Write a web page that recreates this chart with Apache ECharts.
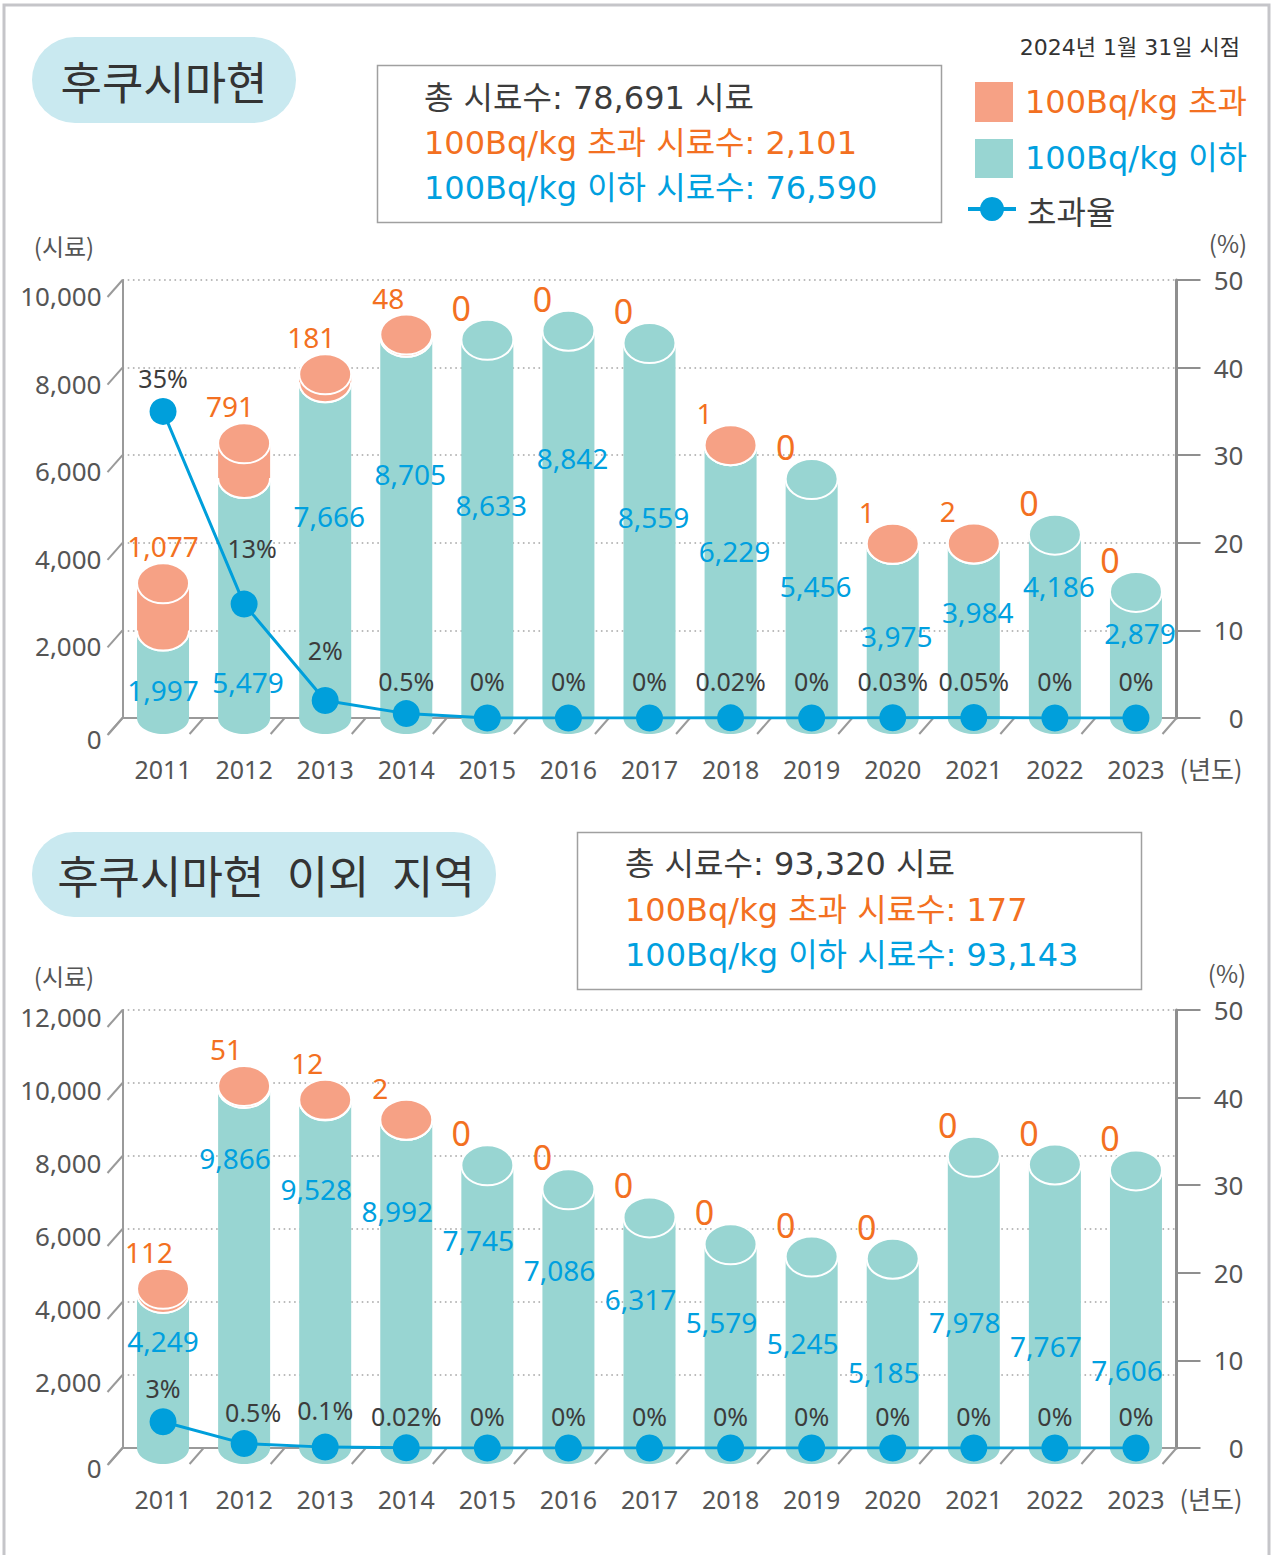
<!DOCTYPE html>
<html>
<head>
<meta charset="utf-8">
<script src="https://cdn.jsdelivr.net/npm/echarts@6/dist/echarts.min.js"></script>
<style>
html,body{margin:0;padding:0;background:#fff;}
#c{width:1273px;height:1555px;}
</style>
</head>
<body>
<div id="c"></div>
<script>
// ---------- data ----------
const years = ['2011','2012','2013','2014','2015','2016','2017','2018','2019','2020','2021','2022','2023'];

// 후쿠시마현
const fkBelow = [1997, 5479, 7666, 8705, 8633, 8842, 8559, 6229, 5456, 3975, 3984, 4186, 2879];
const fkOver  = [1077, 791, 181, 48, 0, 0, 0, 1, 0, 1, 2, 0, 0];
const fkRate  = [35, 13, 2, 0.5, 0, 0, 0, 0.02, 0, 0.03, 0.05, 0, 0];
const fkCountTicks = [0, 2000, 4000, 6000, 8000, 10000];

// 후쿠시마현 이외 지역
const otBelow = [4249, 9866, 9528, 8992, 7745, 7086, 6317, 5579, 5245, 5185, 7978, 7767, 7606];
const otOver  = [112, 51, 12, 2, 0, 0, 0, 0, 0, 0, 0, 0, 0];
const otRate  = [3, 0.5, 0.1, 0.02, 0, 0, 0, 0, 0, 0, 0, 0, 0];
const otCountTicks = [0, 2000, 4000, 6000, 8000, 10000, 12000];

const rateTicks = [0, 10, 20, 30, 40, 50];

// label anchor heights (in sample units) for the "이하" value labels
const fkBelowLabelAt = [640, 820, 4610, 5570, 4860, 5940, 4590, 3810, 3010, 1870, 2420, 3010, 1940];
const otBelowLabelAt = [2930, 7950, 7100, 6490, 5700, 4880, 4080, 3450, 2880, 2080, 3450, 2800, 2140];
// rate label offsets [dx, dy] relative to the point
const fkRateLabelOffset = [[0,-33],[8,-56],[0,-50],[0,-33],[0,-37],[0,-37],[0,-37],[0,-37],[0,-37],[0,-37],[0,-37],[0,-37],[0,-37]];
const otRateLabelOffset = [[0,-34],[9,-32],[0,-37],[0,-32],[0,-32],[0,-32],[0,-32],[0,-32],[0,-32],[0,-32],[0,-32],[0,-32],[0,-32]];

// ---------- style ----------
const FONT = "'Noto Sans','Noto Sans CJK KR',sans-serif";
const KFONT = "'Noto Sans CJK KR','Noto Sans',sans-serif";
const WFONT = "'DejaVu Sans','Noto Sans CJK KR',sans-serif";
const C = {
  teal: '#98d5d2', orange: '#f6a185', orangeText: '#f37021', blueText: '#00a0df',
  line: '#009fdb', dark: '#3c3c3c', gray: '#555555', axis: '#9a9a9a', pill: '#c9e9f0'
};
const BAR_W = 52, RY = 20, BASE_RY = 16;

const fmt = v => Number(v).toLocaleString('en-US');
const sum = a => a.reduce((s, v) => s + v, 0);

function txt(text, x, y, size, color, align, family) {
  return {
    type: 'text', x: x, y: y, z: 10,
    style: {
      text: text, fill: color, fontSize: size, fontFamily: family || KFONT,
      align: align || 'left', verticalAlign: 'middle',
      textAlign: align || 'left', textVerticalAlign: 'middle'
    }
  };
}

function belowSeries(gi, below, labelAt, labelDx) {
  return {
    type: 'custom', name: '100Bq/kg 이하', xAxisIndex: gi, yAxisIndex: gi * 2, z: 2,
    silent: true, animation: false,
    itemStyle: { color: C.teal },
    data: below.map((v, i) => [i, v, labelAt[i]]),
    renderItem: function (params, api) {
      const i = api.value(0);
      const base = api.coord([i, 0]);
      const top = api.coord([i, api.value(1)]);
      const lab = api.coord([i, api.value(2)]);
      const x = base[0];
      const dx = i === 0 ? 0 : labelDx;
      return {
        type: 'group', children: [
          { type: 'ellipse', shape: { cx: x, cy: base[1], rx: BAR_W / 2, ry: BASE_RY }, style: { fill: C.teal } },
          { type: 'rect', shape: { x: x - BAR_W / 2, y: top[1], width: BAR_W, height: base[1] - top[1] }, style: { fill: C.teal } },
          { type: 'ellipse', shape: { cx: x, cy: top[1], rx: BAR_W / 2, ry: RY }, style: { fill: C.teal, stroke: '#ffffff', lineWidth: 2 } },
          { type: 'text', z2: 50, style: {
              text: fmt(api.value(1)), x: x + dx, y: lab[1], fill: C.blueText,
              fontSize: 28, fontFamily: FONT, align: 'center', verticalAlign: 'middle',
              textAlign: 'center', textVerticalAlign: 'middle' } }
        ]
      };
    }
  };
}

function overDx(s) { return s.length >= 5 ? 0 : s.length >= 3 ? -14 : s.length === 2 ? -18 : -26; }

function overSeries(gi, below, over) {
  return {
    type: 'custom', name: '100Bq/kg 초과', xAxisIndex: gi, yAxisIndex: gi * 2, z: 2,
    silent: true, animation: false,
    itemStyle: { color: C.orange },
    data: over.map((o, i) => [i, below[i], below[i] + o, o]),
    renderItem: function (params, api) {
      const i = api.value(0);
      const o = api.value(3);
      const p0 = api.coord([i, api.value(1)]);
      const p1 = api.coord([i, api.value(2)]);
      const x = p0[0];
      const children = [];
      if (o > 0) {
        children.push(
          { type: 'ellipse', shape: { cx: x, cy: p0[1], rx: BAR_W / 2, ry: RY }, style: { fill: C.orange, stroke: '#ffffff', lineWidth: 2 } },
          { type: 'rect', shape: { x: x - BAR_W / 2, y: p1[1], width: BAR_W, height: p0[1] - p1[1] }, style: { fill: C.orange } },
          { type: 'ellipse', shape: { cx: x, cy: p1[1], rx: BAR_W / 2, ry: RY }, style: { fill: C.orange, stroke: '#ffffff', lineWidth: 2 } }
        );
      }
      const s = fmt(o);
      children.push({ type: 'text', z2: 50, style: {
        text: s, x: x + overDx(s), y: p1[1] - (o >= 10 ? 37 : 32), fill: C.orangeText,
        fontSize: o === 0 ? 34 : 28, fontFamily: FONT, align: 'center', verticalAlign: 'middle',
        textAlign: 'center', textVerticalAlign: 'middle' } });
      return { type: 'group', children: children };
    }
  };
}

function floorSeries(gi) {
  return {
    type: 'custom', xAxisIndex: gi, yAxisIndex: gi * 2, z: 1, silent: true, animation: false,
    data: years.map((y, i) => [i, 0]),
    renderItem: function (params, api) {
      const i = api.value(0);
      const p = api.coord([i, 0]);
      const band = api.size([1, 0])[0];
      const xs = [p[0] - band / 2];
      if (i === years.length - 1) xs.push(p[0] + band / 2);
      return {
        type: 'group', children: xs.map(bx => ({
          type: 'line', shape: { x1: bx, y1: p[1], x2: bx - 14, y2: p[1] + 16 },
          style: { stroke: C.axis, lineWidth: 2 }
        }))
      };
    }
  };
}

function leftDiagSeries(gi, ticks) {
  return {
    type: 'custom', xAxisIndex: gi, yAxisIndex: gi * 2, z: 1, silent: true, animation: false,
    data: ticks.map(v => [0, v]),
    renderItem: function (params, api) {
      const p = api.coord([0, api.value(1)]);
      const band = api.size([1, 0])[0];
      const gx = p[0] - band / 2;
      return { type: 'line', shape: { x1: gx, y1: p[1], x2: gx - 15, y2: p[1] + 17 },
        style: { stroke: C.axis, lineWidth: 2 } };
    }
  };
}

function rateSeries(gi, rate, offs) {
  return {
    type: 'line', name: '초과율', xAxisIndex: gi, yAxisIndex: gi * 2 + 1, z: 3,
    silent: true, animation: false,
    data: rate.map((v, i) => ({ value: v, label: { offset: offs[i] } })),
    symbol: 'circle', symbolSize: 27, showAllSymbol: true,
    lineStyle: { color: C.line, width: 3 },
    itemStyle: { color: C.line },
    label: { show: true, position: 'inside', formatter: p => p.value + '%',
      color: C.dark, fontSize: 25, fontFamily: FONT }
  };
}

function xAxis(gi) {
  return {
    type: 'category', gridIndex: gi, data: years,
    axisLine: { show: true, lineStyle: { color: C.axis, width: 2 } },
    axisTick: { show: false },
    axisLabel: { interval: 0, margin: 38, fontSize: 25, color: C.gray, fontFamily: FONT },
    splitLine: { show: false }
  };
}

// lh: line height used to push the label below its grid line (front-plane look)
function leftAxis(gi, ticks, lh, lhZero) {
  return {
    type: 'value', gridIndex: gi, position: 'left',
    min: ticks[0], max: ticks[ticks.length - 1], interval: ticks[1] - ticks[0],
    axisLine: { show: true, lineStyle: { color: C.axis, width: 2 } },
    axisTick: { show: false },
    axisLabel: {
      margin: 21, verticalAlign: 'top',
      formatter: v => v === 0 ? '{z|0}' : '{n|' + fmt(v) + '}',
      rich: {
        n: { fontSize: 26, color: C.gray, fontFamily: FONT, lineHeight: lh },
        z: { fontSize: 26, color: C.gray, fontFamily: FONT, lineHeight: lhZero }
      }
    },
    splitLine: { show: true, lineStyle: { color: '#a5a5a5', width: 1.6, type: [1.6, 3.6] } }
  };
}

function rightAxis(gi) {
  return {
    type: 'value', gridIndex: gi, position: 'right',
    min: rateTicks[0], max: rateTicks[rateTicks.length - 1], interval: rateTicks[1] - rateTicks[0],
    axisLine: { show: true, lineStyle: { color: '#8f8f8f', width: 3 } },
    axisTick: { show: true, length: 24, inside: false, lineStyle: { color: '#8f8f8f', width: 2 } },
    axisLabel: { margin: 67, align: 'right', fontSize: 26, color: C.gray, fontFamily: FONT },
    splitLine: { show: false }
  };
}

const fkTotal = sum(fkBelow) + sum(fkOver);
const otTotal = sum(otBelow) + sum(otOver);

const graphics = [
  { type: 'rect', z: 0, shape: { x: 4, y: 5, width: 1265, height: 1560 },
    style: { fill: 'none', stroke: '#c5c5c9', lineWidth: 3 } },
  // panel 1
  { type: 'rect', shape: { x: 32, y: 37, width: 264, height: 86, r: 43 }, style: { fill: C.pill } },
  txt('후쿠시마현', 164, 80, 45, '#333333', 'center'),
  { type: 'rect', shape: { x: 377.5, y: 65.5, width: 564, height: 157 },
    style: { fill: '#ffffff', stroke: '#a0a0a0', lineWidth: 1.5 } },
  txt('총 시료수: ' + fmt(fkTotal) + ' 시료', 424, 98, 32, C.dark, 'left', WFONT),
  txt('100Bq/kg 초과 시료수: ' + fmt(sum(fkOver)), 424, 143, 32, C.orangeText, 'left', WFONT),
  txt('100Bq/kg 이하 시료수: ' + fmt(sum(fkBelow)), 424, 188, 32, C.blueText, 'left', WFONT),
  txt('2024년 1월 31일 시점', 1240, 47, 22, '#333333', 'right', WFONT),
  { type: 'rect', shape: { x: 975, y: 82, width: 38, height: 40 }, style: { fill: C.orange } },
  txt('100Bq/kg 초과', 1025, 102, 32, C.orangeText, 'left', WFONT),
  { type: 'rect', shape: { x: 975, y: 139, width: 38, height: 39 }, style: { fill: C.teal } },
  txt('100Bq/kg 이하', 1025, 158, 32, C.blueText, 'left', WFONT),
  { type: 'line', shape: { x1: 968, y1: 209, x2: 1016, y2: 209 }, style: { stroke: C.line, lineWidth: 4 } },
  { type: 'circle', shape: { cx: 992, cy: 209, r: 12 }, style: { fill: C.line } },
  txt('초과율', 1027, 210, 32, C.dark),
  txt('(시료)', 64, 245, 24, C.gray, 'center'),
  txt('(%)', 1228, 242, 24, C.gray, 'center'),
  txt('(년도)', 1211, 768, 25, C.gray, 'center'),
  // panel 2
  { type: 'rect', shape: { x: 32, y: 832, width: 464, height: 85, r: 42 }, style: { fill: C.pill } },
  txt('후쿠시마현\u2002이외\u2002지역', 266, 874, 45, '#333333', 'center'),
  { type: 'rect', shape: { x: 577.5, y: 832.5, width: 564, height: 157 },
    style: { fill: '#ffffff', stroke: '#a0a0a0', lineWidth: 1.5 } },
  txt('총 시료수: ' + fmt(otTotal) + ' 시료', 625, 864, 32, C.dark, 'left', WFONT),
  txt('100Bq/kg 초과 시료수: ' + fmt(sum(otOver)), 625, 910, 32, C.orangeText, 'left', WFONT),
  txt('100Bq/kg 이하 시료수: ' + fmt(sum(otBelow)), 625, 955, 32, C.blueText, 'left', WFONT),
  txt('(시료)', 64, 975, 24, C.gray, 'center'),
  txt('(%)', 1227, 972, 24, C.gray, 'center'),
  txt('(년도)', 1211, 1498, 25, C.gray, 'center')
];

const option = {
  animation: false,
  textStyle: { fontFamily: FONT },
  grid: [
    { left: 122.5, right: 96.5, top: 280, height: 438 },
    { left: 122.5, right: 96.5, top: 1010, height: 438 }
  ],
  xAxis: [xAxis(0), xAxis(1)],
  yAxis: [leftAxis(0, fkCountTicks, 32, 42), rightAxis(0), leftAxis(1, otCountTicks, 14, 40), rightAxis(1)],
  graphic: graphics,
  series: [
    floorSeries(0), leftDiagSeries(0, fkCountTicks),
    belowSeries(0, fkBelow, fkBelowLabelAt, 4), overSeries(0, fkBelow, fkOver),
    rateSeries(0, fkRate, fkRateLabelOffset),
    floorSeries(1), leftDiagSeries(1, otCountTicks),
    belowSeries(1, otBelow, otBelowLabelAt, -9), overSeries(1, otBelow, otOver),
    rateSeries(1, otRate, otRateLabelOffset)
  ]
};

const chart = echarts.init(document.getElementById('c'), null, { renderer: 'svg', width: 1273, height: 1555 });
chart.setOption(option);
</script>
</body>
</html>
